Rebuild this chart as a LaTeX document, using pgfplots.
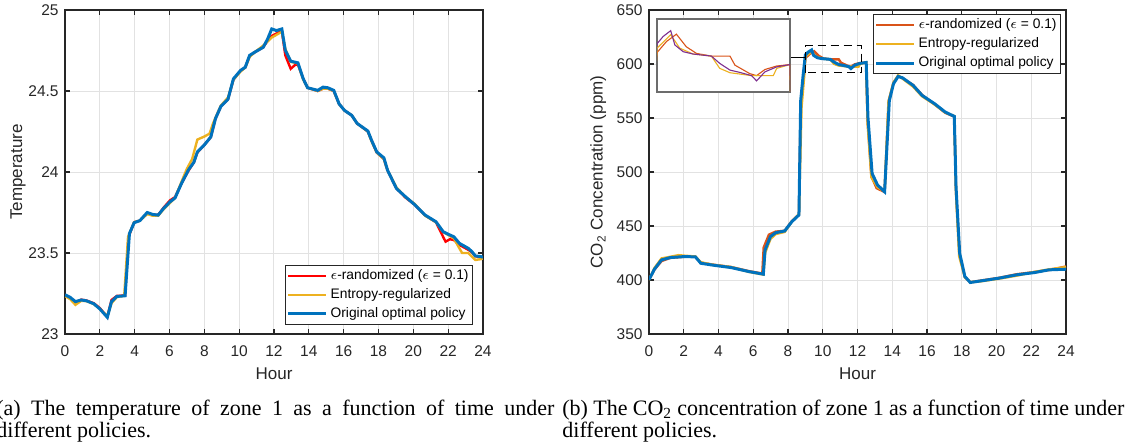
\documentclass[border=0pt]{standalone}
\usepackage{fontspec}
\setmainfont{Liberation Sans}
\newfontfamily\capfont{Liberation Serif}
\usepackage{pgfplots}
\pgfplotsset{compat=1.18}
\usepackage{pgfplotstable}

\definecolor{mred}{rgb}{1,0,0}
\definecolor{mor}{HTML}{D95319}
\definecolor{myel}{HTML}{EDB120}
\definecolor{mblue}{HTML}{0072BD}
\definecolor{mpur}{HTML}{7E2F8E}
\definecolor{axgray}{HTML}{262626}
\definecolor{gridgray}{HTML}{E2E2E2}

\pgfplotstableread{
h T
0 23.242
0.3 23.226
0.6 23.200
0.93 23.210
1.23 23.205
1.65 23.187
2.0 23.155
2.43 23.103
2.67 23.20
2.98 23.232
3.45 23.236
3.7 23.62
3.97 23.687
4.3 23.70
4.72 23.75
5.04 23.738
5.35 23.734
5.66 23.775
6.03 23.816
6.32 23.84
6.69 23.93
7.1 24.015
7.4 24.06
7.6 24.124
8.02 24.17
8.37 24.216
8.64 24.33
8.95 24.405
9.36 24.45
9.67 24.575
10.08 24.627
10.35 24.647
10.6 24.72
10.9 24.74
11.38 24.77
11.63 24.82
11.87 24.883
12.14 24.873
12.45 24.883
12.65 24.75
12.96 24.684
13.37 24.674
13.68 24.575
13.93 24.52
14.51 24.504
14.82 24.524
15.09 24.52
15.43 24.504
15.74 24.42
16.05 24.38
16.46 24.35
16.77 24.30
17.39 24.253
17.6 24.196
17.9 24.124
18.31 24.087
18.52 24.011
19.03 23.898
19.55 23.847
20.06 23.80
20.68 23.734
21.3 23.693
21.71 23.632
22.02 23.615
22.33 23.60
22.64 23.56
23.15 23.529
23.36 23.509
23.56 23.482
23.87 23.478
24 23.474
}\tempblue

\pgfplotstableread{
h T
0 23.235
0.3 23.215
0.6 23.180
0.93 23.205
1.23 23.203
1.65 23.185
2.0 23.155
2.43 23.110
2.67 23.19
2.98 23.228
3.4 23.236
3.62 23.60
3.97 23.69
4.3 23.70
4.72 23.74
5.04 23.73
5.35 23.73
5.66 23.77
6.03 23.81
6.32 23.84
6.69 23.94
7.0 24.02
7.3 24.08
7.6 24.20
8.02 24.22
8.3 24.237
8.5 24.30
8.95 24.41
9.36 24.46
9.67 24.57
10.08 24.62
10.35 24.645
10.6 24.71
10.9 24.74
11.38 24.78
11.87 24.83
12.45 24.866
12.65 24.76
12.96 24.68
13.37 24.67
13.68 24.57
13.93 24.52
14.51 24.50
14.82 24.515
15.09 24.515
15.43 24.50
15.74 24.42
16.05 24.38
16.46 24.35
16.77 24.30
17.39 24.25
17.6 24.19
17.9 24.12
18.31 24.08
18.52 24.01
19.03 23.905
19.55 23.845
20.06 23.805
20.68 23.73
21.3 23.69
21.71 23.63
22.02 23.61
22.33 23.59
22.64 23.53
22.8 23.50
23.15 23.50
23.56 23.457
23.87 23.462
24 23.467
}\tempyel

\pgfplotstableread{
h T
0 23.24
0.3 23.22
0.6 23.195
0.93 23.212
1.23 23.207
1.65 23.19
2.0 23.16
2.43 23.105
2.67 23.21
2.98 23.235
3.45 23.238
3.65 23.60
3.97 23.69
4.3 23.70
4.72 23.745
5.04 23.735
5.35 23.735
5.66 23.78
6.03 23.825
6.32 23.845
6.69 23.93
7.1 24.01
7.4 24.06
7.6 24.12
8.02 24.17
8.37 24.215
8.64 24.33
8.95 24.405
9.36 24.45
9.67 24.57
10.08 24.625
10.35 24.645
10.6 24.715
10.9 24.74
11.38 24.77
11.63 24.81
11.87 24.84
12.14 24.855
12.45 24.87
12.65 24.72
12.96 24.637
13.2 24.66
13.37 24.665
13.68 24.575
13.93 24.52
14.51 24.50
14.82 24.515
15.09 24.515
15.43 24.50
15.74 24.42
16.05 24.38
16.46 24.35
16.77 24.30
17.39 24.25
17.6 24.195
17.9 24.12
18.31 24.08
18.52 24.01
19.03 23.90
19.55 23.842
20.06 23.80
20.68 23.732
21.3 23.69
21.71 23.60
21.85 23.57
22.1 23.585
22.33 23.58
22.64 23.55
23.15 23.52
23.36 23.505
23.56 23.48
23.87 23.475
24 23.472
}\tempred

\pgfplotstableread{
h c
0 400.2
0.31 410
0.72 418.6
1.23 420.8
2.05 421.7
2.67 421.4
2.98 415.5
3.7 413.7
4.73 411.5
5.75 407.8
6.58 405.4
6.68 427.8
6.99 440.2
7.29 443.8
7.81 445.4
8.22 454
8.63 460.2
8.73 566
8.88 591
9.0 608.5
9.16 611
9.36 613
9.47 608.1
9.69 605.8
9.95 605
10.43 604.3
10.65 601.8
10.92 599.5
11.18 598.7
11.49 597.6
11.62 595.8
11.84 598.9
12.15 600.6
12.5 601.4
12.6 551
12.84 498.6
13.15 488
13.56 481.7
13.83 566
14.07 581.7
14.34 588.5
14.59 587.2
15.2 580.2
15.72 570.9
16.44 563.2
17.05 555.5
17.57 551.5
17.67 486.3
17.88 424.8
18.18 403.2
18.49 397.7
19.11 399.2
20.14 401.7
21.16 404.8
22.19 406.9
23.01 409.4
24 410
}\coblue

\pgfplotstableread{
h c
0 400
0.31 411
0.72 420
1.23 421.5
1.7 423
2.05 422.5
2.67 421.8
2.98 416.5
3.7 414
4.73 412
5.75 407.5
6.58 405
6.68 425
6.99 438
7.29 442.5
7.81 444.5
8.22 454
8.63 461
8.78 560
8.95 592
9.0 607
9.36 611.6
9.6 607
9.95 605
10.43 604.3
10.65 600.1
10.92 598.6
11.49 597.6
12.06 597.6
12.15 600.1
12.5 601.4
12.58 545
12.8 495
13.15 486
13.56 482
13.78 565
14.07 583
14.34 589.5
14.59 586.5
15.2 579
15.72 570
16.44 562.5
17.05 555
17.57 551.8
17.67 480
17.85 422
18.18 402.5
18.49 398
19.11 398.8
20.14 401.2
21.16 404
22.19 407.5
23.01 409.8
24 412
}\coyel

\pgfplotstableread{
h c
0 400.5
0.31 409.5
0.72 417.5
1.23 420.5
2.05 421.5
2.67 421.6
2.98 416
3.7 414.2
4.73 412
5.75 408.2
6.52 406
6.6 430
6.9 442
7.29 444.8
7.81 445.6
8.22 454.5
8.63 460.8
8.73 560
8.9 588
9.0 605.5
9.25 609.3
9.51 611.8
9.77 607.5
10.04 605.2
10.43 604.3
10.92 604.3
11.05 601.2
11.44 598.3
11.62 597.6
11.84 599.7
12.15 600.9
12.5 601.4
12.58 548
12.8 496
13.1 485
13.56 481.5
13.8 566
14.07 582.5
14.34 588.8
14.59 586.8
15.2 580.6
15.72 571.3
16.44 562.6
17.05 554.8
17.57 551.3
17.67 482
17.88 423
18.18 402.8
18.49 397.9
19.11 399.5
20.14 402
21.16 405.3
22.19 407.4
23.01 409.2
24 412.5
}\cored

\pgfplotsset{
  mstyle/.style={
    scale only axis,
    height=162pt,
    xmin=0, xmax=24, xtick={0,2,...,24},
    grid=major,
    major grid style={gridgray, line width=0.5pt},
    axis line style={axgray, line width=0.6pt},
    tick style={axgray, line width=0.6pt},
    tick align=inside,
    major tick length=2.5pt,
    tick label style={font=\fontsize{7.75}{9}\selectfont, text=axgray},
    /pgf/number format/assume math mode=true,
    xticklabel style={inner sep=0pt, yshift=-5.5pt},
    yticklabel style={inner sep=0pt, xshift=-3pt},
    label style={font=\fontsize{8.5}{10}\selectfont, text=axgray},
    xlabel style={at={(axis description cs:0.5,0)}, anchor=north, yshift=-16.5pt, inner sep=0pt},
    legend style={font=\fontsize{6.9}{8}\selectfont, draw=axgray, line width=0.5pt, fill=white,
      inner sep=0.6pt, nodes={text height=5.2pt, text depth=1.6pt, inner sep=1.35pt}},
    legend cell align=left,
    legend image code/.code={\draw[#1] (0pt,0pt) -- (19pt,0pt);},
  }
}

\begin{document}
\begin{tikzpicture}
\useasboundingbox (0,0) rectangle (565pt,223pt);

% ---------- (a) temperature ----------
\begin{axis}[mstyle,
  at={(32.5pt,56pt)}, anchor=south west,
  width=209pt,
  ymin=23, ymax=25, ytick={23,23.5,24,24.5,25},
  xlabel={Hour}, ylabel={Temperature},
  ylabel style={at={([xshift=-27.5pt]axis description cs:0,0.5)}, anchor=north, inner sep=0pt},
  legend style={at={(axis description cs:1,0)}, anchor=south east, xshift=-5pt, yshift=4.5pt},
]
\addplot[mred, line width=1.2pt] table[x=h,y=T] {\tempred};
\addlegendentry{$\epsilon$-randomized ($\epsilon$ = 0.1)}
\addplot[myel, line width=1.2pt] table[x=h,y=T] {\tempyel};
\addlegendentry{Entropy-regularized}
\addplot[mblue, line width=1.5pt] table[x=h,y=T] {\tempblue};
\addlegendentry{Original optimal policy}
\end{axis}

% ---------- (b) CO2 ----------
\begin{axis}[mstyle,
  at={(324.5pt,56pt)}, anchor=south west,
  width=208.5pt,
  ymin=350, ymax=650, ytick={350,400,...,650},
  xlabel={Hour}, ylabel={CO\textsubscript{2} Concentration (ppm)},
  ylabel style={at={([xshift=-29.5pt]axis description cs:0,0.5)}, anchor=north, inner sep=0pt},
  legend style={at={(axis description cs:1,1)}, anchor=north east, xshift=-2.5pt, yshift=-2pt},
]
\addplot[mor, line width=1.2pt] table[x=h,y=c] {\cored};
\addlegendentry{$\epsilon$-randomized ($\epsilon$ = 0.1)}
\addplot[myel, line width=1.2pt] table[x=h,y=c] {\coyel};
\addlegendentry{Entropy-regularized}
\addplot[mblue, line width=1.5pt] table[x=h,y=c] {\coblue};
\addlegendentry{Original optimal policy}
\draw[black, line width=0.5pt, dash pattern=on 4pt off 2.5pt] (axis cs:9.02,592) rectangle (axis cs:12.24,617);
\draw[black, line width=0.5pt] (axis cs:8.115,606.2) -- (axis cs:9.02,606.2);
\end{axis}

% ---------- inset ----------
\begin{axis}[
  scale only axis,
  at={(328.5pt,177pt)}, anchor=south west,
  width=66.5pt, height=36.5pt,
  xmin=9, xmax=12.5, ymin=592, ymax=617,
  xtick=\empty, ytick=\empty,
  axis line style={gray!85!black, line width=0.9pt},
  axis background/.style={fill=white},
]
\addplot[mor, line width=0.55pt] table[x=h,y=c] {\cored};
\addplot[myel, line width=0.55pt] table[x=h,y=c] {\coyel};
\addplot[mpur, line width=0.55pt] table[x=h,y=c] {\coblue};
\end{axis}

% ---------- captions ----------
\node[anchor=base west, inner sep=0pt, text width=279pt, align=justify,
      font=\capfont\fontsize{11}{11}\selectfont] at (-2pt,15.5pt)
  {(a) The temperature of zone 1 as a function of time under\linebreak different policies.};
\node[anchor=base west, inner sep=0pt, text width=281pt, align=justify,
      font=\capfont\fontsize{11}{11}\selectfont] at (281pt,15.5pt)
  {(b) The CO\textsubscript{2} concentration of zone 1 as a function of time under\linebreak different policies.};
\end{tikzpicture}
\end{document}
